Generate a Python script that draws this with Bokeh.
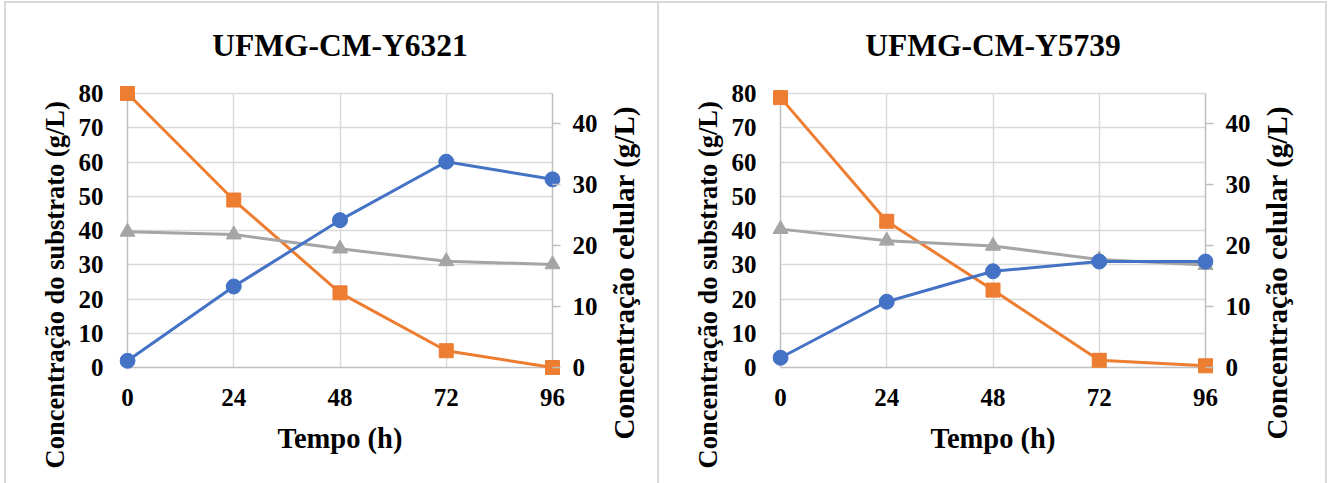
from bokeh.embed import file_html
from bokeh.layouts import row
from bokeh.models import FixedTicker, Grid, LinearAxis, Range1d, Title
from bokeh.plotting import figure
from bokeh.resources import INLINE

# Sampling times (h) and axis ticks
tempo = [0, 24, 48, 72, 96]
x_ticks = [0, 24, 48, 72, 96]
left_ticks = [0, 10, 20, 30, 40, 50, 60, 70, 80]
right_ticks = [0, 10, 20, 30, 40]
left_max = 80
right_max = 45

titles = ["UFMG-CM-Y6321", "UFMG-CM-Y5739"]
x_title = "Tempo (h)"
left_title = "Concentração do substrato (g/L)"
right_title = "Concentração celular (g/L)"

# UFMG-CM-Y6321
substrato_y6321 = [80.0, 48.9, 21.8, 4.9, 0.0]
substrato2_y6321 = [39.6, 38.8, 34.7, 31.0, 30.1]
celular_y6321 = [1.1, 13.3, 24.2, 33.8, 30.9]

# UFMG-CM-Y5739
substrato_y5739 = [78.8, 42.7, 22.6, 2.1, 0.5]
substrato2_y5739 = [40.4, 37.0, 35.5, 31.5, 29.9]
celular_y5739 = [1.6, 10.8, 15.8, 17.4, 17.4]

ORANGE = "#ED7D31"
GRAY = "#A5A5A5"
BLUE = "#4472C4"
GRID = "#D9D9D9"
AXIS = "#BFBFBF"
EDGE = "#D9D9D9"
FONT = "Liberation Serif"

# frame geometry (px) for the 0..96 x 0..80 data box, plus room for edge markers
BOX_W, BOX_H, PAD, TOP = 425, 274, 8, 85
FRAME_H = BOX_H + 2 * PAD
FRAME_W = BOX_W + 2 * PAD
RIGHT_MARGIN = 42
# vertical titles begin this far below the bottom edge of the frame
LEFT_TITLE_DROP = 93
RIGHT_TITLE_DROP = 64
# outer edge of the right title, measured from the x=96 line
RIGHT_TITLE_EDGE = 79


def style_axis(ax):
    ax.major_label_text_font = FONT
    ax.major_label_text_font_style = "bold"
    ax.major_label_text_font_size = "25px"
    ax.major_label_text_color = "black"
    ax.axis_label_text_font = FONT
    ax.axis_label_text_font_style = "bold"
    ax.axis_label_text_font_size = "28.5px"
    ax.axis_label_text_color = "black"
    ax.minor_tick_line_color = None
    ax.axis_line_color = None


def vertical_title(text, size, drop, standoff):
    # reads upwards, starting `drop` px below the frame bottom
    return Title(text=text, align="left", offset=-drop, standoff=standoff,
                 text_font=FONT, text_font_style="bold", text_font_size=size,
                 text_color="black")


def panel(title, subst, subst2, cel, left, shadow):
    kx = BOX_W / x_ticks[-1]
    ky = BOX_H / left_max
    kc = BOX_H / right_max
    p = figure(
        width=left + FRAME_W + RIGHT_MARGIN, height=483,
        output_backend="svg", toolbar_location=None,
        x_range=Range1d(-PAD / kx, x_ticks[-1] + PAD / kx),
        y_range=Range1d(-PAD / ky, left_max + PAD / ky),
        x_axis_location=None, y_axis_location=None,
        min_border_left=left, min_border_right=RIGHT_MARGIN,
        min_border_top=TOP, min_border_bottom=483 - TOP - FRAME_H,
        styles={"box-shadow": shadow},
    )
    p.center = []
    p.extra_y_ranges = {"cel": Range1d(-PAD / kc, right_max + PAD / kc)}
    p.border_fill_color = None
    p.background_fill_color = "white"
    p.outline_line_color = None

    p.title.text = title
    p.title.align = "center"
    p.title.text_font = FONT
    p.title.text_font_style = "bold"
    p.title.text_font_size = "31.5px"
    p.title.text_color = "black"
    p.title.standoff = 46

    # gridlines limited to the data box; the box edges act as axis lines
    xgrid = Grid(dimension=0, ticker=FixedTicker(ticks=x_ticks[1:-1]),
                 cross_bounds=(0, left_max),
                 grid_line_color=GRID, grid_line_width=1.5)
    ygrid = Grid(dimension=1, ticker=FixedTicker(ticks=left_ticks[1:]),
                 cross_bounds=(0, x_ticks[-1]),
                 grid_line_color=GRID, grid_line_width=1.5)
    xedge = Grid(dimension=0, ticker=FixedTicker(ticks=[0, x_ticks[-1]]),
                 cross_bounds=(0, left_max),
                 grid_line_color=AXIS, grid_line_width=1.5)
    yedge = Grid(dimension=1, ticker=FixedTicker(ticks=[0]),
                 cross_bounds=(0, x_ticks[-1]),
                 grid_line_color=AXIS, grid_line_width=1.5)
    for g in (xgrid, ygrid, xedge, yedge):
        p.add_layout(g)

    xaxis = LinearAxis(ticker=FixedTicker(ticks=x_ticks), axis_label=x_title)
    style_axis(xaxis)
    xaxis.major_tick_out = 0
    xaxis.major_tick_in = 0
    xaxis.major_tick_line_color = None
    xaxis.major_label_standoff = 13
    xaxis.axis_label_standoff = 14
    p.add_layout(xaxis, "below")

    yaxis = LinearAxis(ticker=FixedTicker(ticks=left_ticks))
    style_axis(yaxis)
    yaxis.major_tick_out = 0
    yaxis.major_tick_in = 0
    yaxis.major_tick_line_color = None
    yaxis.major_label_standoff = 16
    p.add_layout(yaxis, "left")
    p.add_layout(vertical_title(left_title, "26.5px", LEFT_TITLE_DROP, 12), "left")

    raxis = LinearAxis(y_range_name="cel", ticker=FixedTicker(ticks=right_ticks))
    style_axis(raxis)
    # ticks reach from the frame edge back to the x=96 line
    raxis.major_tick_out = 0
    raxis.major_tick_in = PAD
    raxis.major_tick_line_color = AXIS
    raxis.major_tick_line_width = 1.5
    raxis.major_label_standoff = 12
    p.add_layout(raxis, "right")

    p.line(tempo, subst, line_color=ORANGE, line_width=3)
    p.scatter(tempo, subst, marker="square", size=14, fill_color=ORANGE, line_color=ORANGE)
    p.line(tempo, subst2, line_color=GRAY, line_width=3)
    p.scatter(tempo, subst2, marker="triangle", size=15, fill_color=GRAY, line_color=GRAY)
    p.line(tempo, cel, line_color=BLUE, line_width=3, y_range_name="cel")
    p.scatter(tempo, cel, marker="circle", size=15, fill_color=BLUE, line_color=BLUE,
              y_range_name="cel")
    return p


def right_title_strip(width, shadow):
    # narrow strip beside a chart that carries its secondary-axis title
    standoff = 2
    left = RIGHT_TITLE_EDGE - RIGHT_MARGIN + standoff // 2
    t = figure(
        width=width, height=483,
        output_backend="svg", toolbar_location=None,
        x_range=Range1d(0, 1), y_range=Range1d(0, 1),
        x_axis_location=None, y_axis_location=None,
        min_border_left=left, min_border_right=0,
        min_border_top=TOP, min_border_bottom=483 - TOP - FRAME_H,
        styles={"box-shadow": shadow},
    )
    t.center = []
    t.border_fill_color = None
    t.background_fill_color = None
    t.outline_line_color = None
    t.add_layout(vertical_title(right_title, "29px", RIGHT_TITLE_DROP, standoff), "left")
    return t


TOP_LINE = "inset 0 1px 0 0 #fff, inset 0 3px 0 0 " + EDGE

p1 = panel(titles[0], substrato_y6321, substrato2_y6321, celular_y6321, 119,
           "inset 0 1px 0 0 #fff, inset 4px 0 0 0 #fff, "
           f"inset 0 3px 0 0 {EDGE}, inset 6px 0 0 0 {EDGE}")
t1 = right_title_strip(657 - p1.width, TOP_LINE)
p2 = panel(titles[1], substrato_y5739, substrato2_y5739, celular_y5739, 115,
           f"inset 0 1px 0 0 #fff, inset 0 3px 0 0 {EDGE}, inset 2px 0 0 0 {EDGE}")
t2 = right_title_strip(1329 - 657 - p2.width,
                       "inset 0 1px 0 0 #fff, inset -2px 0 0 0 #fff, "
                       f"inset 0 3px 0 0 {EDGE}, inset -4px 0 0 0 {EDGE}")

layout = row(p1, t1, p2, t2)
open("out.html", "w").write(file_html(layout, INLINE))
